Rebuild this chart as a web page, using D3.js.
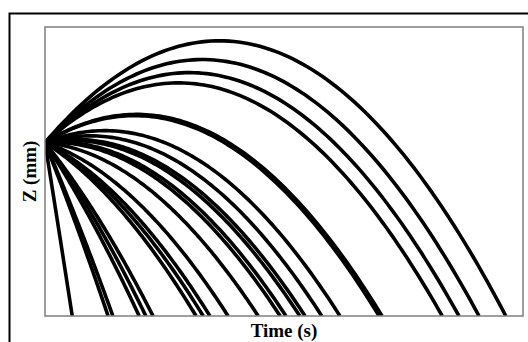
<!DOCTYPE html>
<html>
<head>
<meta charset="utf-8">
<script src="https://cdn.jsdelivr.net/npm/d3@7/dist/d3.min.js"></script>
<style>
  body { margin: 0; background: #fff; }
  .label { font-family: "Liberation Serif", "Times New Roman", serif; font-weight: bold; font-size: 19px; fill: #000; }
</style>
</head>
<body>
<svg class="chart"></svg>
<script>
var landingTime = [0.057, 0.132, 0.142, 0.197, 0.211, 0.226, 0.316, 0.331, 0.345, 0.383,
                   0.446, 0.492, 0.504, 0.533, 0.544, 0.579, 0.617, 0.699, 0.705,
                   0.831, 0.866, 0.908, 0.964];
var timeDomain = [0, 1];      // s
var zDomain = [-60, 40];      // mm, launch height at 0
var gravity = 530;            // mm/s^2 in chart units
var xLabel = "Time (s)";
var yLabel = "Z (mm)";

var width = 528, height = 342;
var margin = {left: 45, top: 27, right: 5, bottom: 26};

var svg = d3.select(".chart")
    .attr("width", width)
    .attr("height", height);

var x = d3.scaleLinear().domain(timeDomain).range([margin.left, width - margin.right]);
var y = d3.scaleLinear().domain(zDomain).range([height - margin.bottom, margin.top]);

// outer frame, runs off the right and bottom
svg.append("rect")
    .attr("x", 9.5)
    .attr("y", 13.5)
    .attr("width", 540)
    .attr("height", 340)
    .attr("fill", "none")
    .attr("stroke", "#000")
    .attr("stroke-width", 2);

svg.append("clipPath")
    .attr("id", "plot")
  .append("rect")
    .attr("x", x(timeDomain[0]))
    .attr("y", y(zDomain[1]))
    .attr("width", x(timeDomain[1]) - x(timeDomain[0]))
    .attr("height", y(zDomain[0]) - y(zDomain[1]));

var line = d3.line()
    .x(function(d) { return x(d[0]); })
    .y(function(d) { return y(d[1]); });

svg.append("g")
    .attr("clip-path", "url(#plot)")
  .selectAll("path")
  .data(landingTime)
  .enter().append("path")
    .attr("d", function(T) {
      // initial velocity that brings the trajectory to the floor at T
      var v0 = (0.5 * gravity * T * T + zDomain[0]) / T;
      var pts = d3.range(0, 101).map(function(i) {
        var t = T * i / 100;
        return [t, v0 * t - 0.5 * gravity * t * t];
      });
      return line(pts);
    })
    .attr("fill", "none")
    .attr("stroke", "#000")
    .attr("stroke-width", 3.6);

svg.append("rect")
    .attr("x", x(timeDomain[0]))
    .attr("y", y(zDomain[1]))
    .attr("width", x(timeDomain[1]) - x(timeDomain[0]))
    .attr("height", y(zDomain[0]) - y(zDomain[1]))
    .attr("fill", "none")
    .attr("stroke", "#7f7f7f")
    .attr("stroke-width", 1.5);

svg.append("text")
    .attr("class", "label")
    .attr("x", (x.range()[0] + x.range()[1]) / 2)
    .attr("y", 337)
    .attr("text-anchor", "middle")
    .text(xLabel);

svg.append("text")
    .attr("class", "label")
    .attr("transform", "translate(36," + (y.range()[0] + y.range()[1]) / 2 + ") rotate(-90)")
    .attr("text-anchor", "middle")
    .text(yLabel);
</script>
</body>
</html>
